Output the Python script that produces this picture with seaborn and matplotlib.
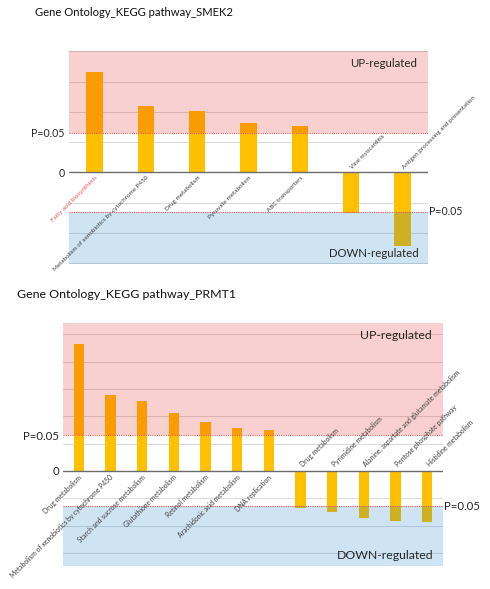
import numpy as np
import pandas as pd
import matplotlib
matplotlib.use('Agg')
import matplotlib.pyplot as plt
import matplotlib.transforms as mtransforms
import seaborn as sns

sns.set_style('white')
plt.rcParams['font.family'] = ['Lato', 'DejaVu Sans']

# dados (escala -log10(p); limiar = 1.3 -> P=0.05)
smek2_pathways = ['Fatty acid biosynthesis',
                  'Metabolism of xenobiotics by cytochrome P450',
                  'Drug metabolism', 'Pyruvate metabolism', 'ABC transporters',
                  'Viral myocarditis', 'Antigen processing and presentation']
smek2_values = [3.30, 2.18, 2.02, 1.63, 1.53, -1.35, -2.43]

prmt1_pathways = ['Drug metabolism',
                  'Metabolism of xenobiotics by cytochrome P450',
                  'Starch and sucrose metabolism', 'Glutathione metabolism',
                  'Retinol metabolism', 'Arachidonic acid metabolism',
                  'DNA replication', 'Drug metabolism', 'Pyrimidine metabolism',
                  'Alanine, aspartate and glutamate metabolism',
                  'Pentose phosphate pathway', 'Histidine metabolism']
prmt1_values = [4.65, 2.77, 2.58, 2.11, 1.81, 1.58, 1.51,
                -1.34, -1.51, -1.73, -1.83, -1.88]

threshold = 1.3

W, H = 490, 589
fig = plt.figure(figsize=(W / 100, H / 100), dpi=100)


def px_axes(x0, x1, y0, y1):
    return fig.add_axes([x0 / W, 1 - y1 / H, (x1 - x0) / W, (y1 - y0) / H])


def draw_panel(ax, names, values, ylim, label_size, tick_size, band_size,
               red_first=False):
    n = len(values)
    df = pd.DataFrame({'pos': np.arange(n), 'val': values})
    sns.barplot(data=df, x='pos', y='val', color='#FFC000', saturation=1,
                width=0.32, edgecolor='none', ax=ax, zorder=2)
    ax.set_xlim(-0.5, n - 0.5)
    ax.set_ylim(*ylim)

    # grade
    for g in range(int(np.ceil(ylim[0])), int(np.floor(ylim[1])) + 1):
        if g != 0:
            ax.axhline(g, color='#d9d9d9', lw=0.7, zorder=1)

    # regiões UP / DOWN (sobrepostas às barras)
    ax.axhspan(threshold, ylim[1], color=(0.89, 0.0, 0.0), alpha=0.185,
               lw=0, zorder=3)
    ax.axhspan(ylim[0], -threshold, color=(0.0, 0.44, 0.75), alpha=0.19,
               lw=0, zorder=3)
    ax.axhline(threshold, color='#e05a5a', lw=0.8, ls=(0, (1, 1)), zorder=4)
    ax.axhline(-threshold, color='#e05a5a', lw=0.8, ls=(0, (1, 1)), zorder=4)
    ax.axhline(0, color='#6b6b6b', lw=1.0, zorder=4)

    for s in ax.spines.values():
        s.set_visible(False)
    ax.set_xticks([])
    ax.set_xlabel('')
    ax.set_ylabel('')
    ax.set_yticks([threshold, 0])
    ax.set_yticklabels(['P=0.05', '0'], fontsize=tick_size, color='#262626')
    ax.tick_params(axis='y', length=0, pad=3)

    # rótulos das categorias
    for i, (name, v) in enumerate(zip(names, values)):
        color = '#e05555' if (red_first and i == 0) else '#404040'
        if v >= 0:
            ax.annotate(name, (i, 0), xytext=(3, -2), textcoords='offset points',
                        rotation=45, ha='right', va='top',
                        fontsize=label_size, color=color, zorder=5)
        else:
            ax.annotate(name, (i, 0), xytext=(-1, 2), textcoords='offset points',
                        rotation=45, ha='left', va='bottom',
                        fontsize=label_size, color=color, zorder=5)

    trans = mtransforms.blended_transform_factory(ax.transAxes, ax.transData)
    ax.annotate('P=0.05', (1, -threshold), xycoords=trans, xytext=(1, 0),
                textcoords='offset points', ha='left', va='center',
                fontsize=tick_size, color='#262626')
    ax.annotate('UP-regulated', (1, 1), xycoords='axes fraction',
                xytext=(-8, -9), textcoords='offset points', ha='right',
                va='center', fontsize=band_size, color='#262626', zorder=6)
    ax.annotate('DOWN-regulated', (1, 0), xycoords='axes fraction',
                xytext=(-7, 7.5), textcoords='offset points', ha='right',
                va='center', fontsize=band_size, color='#262626', zorder=6)


ax1 = px_axes(69, 428, 51, 264)
draw_panel(ax1, smek2_pathways, smek2_values, (-3.03, 4.01),
           label_size=4.5, tick_size=7.6, band_size=8.2, red_first=True)

ax2 = px_axes(63, 443, 322.7, 566)
draw_panel(ax2, prmt1_pathways, prmt1_values, (-3.48, 5.43),
           label_size=4.9, tick_size=8.2, band_size=8.8)

fig.text(35 / W, 1 - 13 / H, 'Gene Ontology_KEGG pathway_SMEK2',
         ha='left', va='center', fontsize=8.1, color='#111111')
fig.text(17 / W, 1 - 295 / H, 'Gene Ontology_KEGG pathway_PRMT1',
         ha='left', va='center', fontsize=8.9, color='#111111')

fig.savefig('out.png', dpi=100)
plt.close(fig)
